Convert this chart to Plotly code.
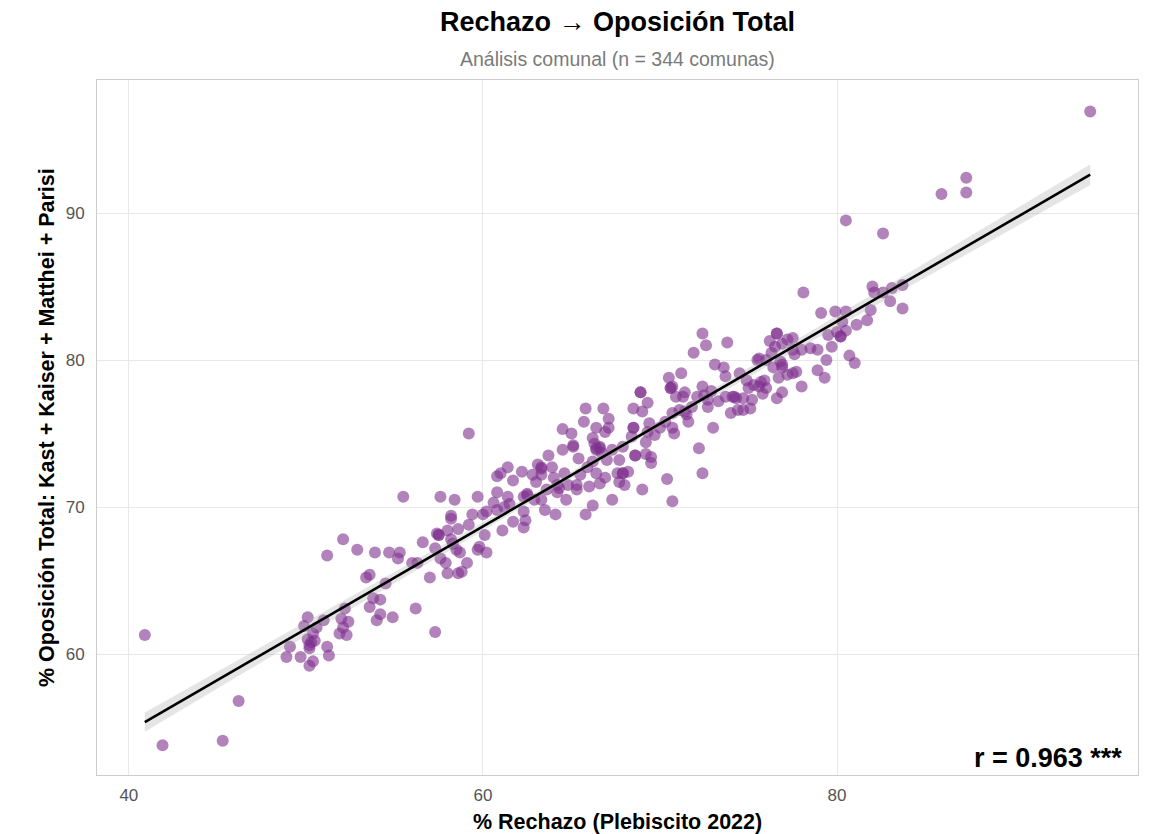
import numpy as np
import plotly.graph_objects as go

# % Rechazo (Plebiscito 2022) and % Oposición Total per comuna
rechazo = [
    40.9, 41.9, 45.3, 46.2, 51.2,
    50.1, 49.9, 51.0, 50.6, 50.4, 50.1, 50.3, 50.2, 49.1, 48.9, 49.7, 50.2, 50.4, 51.2, 51.3,
    59.2, 55.5, 57.6, 58.4, 59.7, 58.2, 58.2, 59.4, 59.2, 58.6, 58.0, 57.4, 57.5, 56.6, 57.3,
    58.2, 58.5, 58.7, 59.7, 57.6, 57.9, 59.1, 58.0, 58.6, 58.8, 57.0, 56.0, 56.3, 52.1, 52.9,
    53.9, 54.7, 55.3, 55.2, 53.4, 53.6, 54.5, 53.8, 54.2, 53.6, 52.2, 54.2, 54.9, 54.0, 56.2,
    57.3, 52.0, 52.4, 52.1, 51.9, 52.3,
    65.8, 66.8, 67.1, 65.7, 66.4, 67.1, 66.9, 64.5, 65.0, 66.2, 66.3, 66.6, 66.4, 66.7, 65.1,
    64.5, 67.3, 65.4, 63.7, 63.1, 63.9, 63.3, 66.2, 67.0, 65.9, 64.6, 65.5, 66.4, 66.9, 67.6,
    63.3, 62.8, 63.0, 64.0, 64.2, 64.8, 65.3, 66.0, 66.6, 65.3, 63.6, 64.2, 64.7, 67.3, 66.2,
    65.8, 64.1, 63.5, 63.3, 62.9, 62.5, 62.3, 61.4, 62.2, 60.8, 61.0, 61.7, 60.8, 61.4, 60.6,
    60.2, 60.8, 61.2, 61.7, 62.3, 62.4, 62.3, 61.1, 60.0, 60.1, 59.8, 60.2,
    72.4, 72.6, 71.9, 73.8, 73.1, 73.6, 73.7, 74.5, 74.9, 75.5, 75.3, 75.0, 71.2, 70.5, 70.6,
    70.7, 71.4, 71.3, 70.9, 72.4, 72.9, 72.1, 72.7, 73.7, 74.2, 74.7, 75.2, 74.0, 74.4, 75.1,
    71.8, 71.5, 71.1, 70.7, 70.3, 70.7, 70.8, 71.6, 72.7, 73.0, 68.9, 69.3, 68.5, 69.0, 69.4,
    69.3, 68.5, 68.4, 67.9, 69.2, 69.7, 70.0, 72.2, 68.6, 69.2, 69.5, 67.7, 67.9, 68.2, 67.7,
    68.0, 72.4, 70.4, 69.0, 70.7,
    78.1, 79.1, 79.9, 80.5, 82.0, 82.1, 81.9, 81.7, 81.1, 80.3, 80.5, 80.0, 80.2, 79.5, 79.7,
    79.4, 80.7, 81.0, 79.3, 78.9, 78.5, 78.0, 77.5, 77.2, 76.6, 76.2, 76.5, 76.9, 77.5, 76.3,
    75.6, 76.8, 76.4, 76.9, 77.5, 77.7, 77.2, 76.7, 75.9, 75.6, 76.0, 76.9, 78.0, 76.6, 75.8,
    94.3, 87.3, 87.3, 85.9, 82.6, 83.1, 83.7, 82.6, 83.0, 83.7, 80.5,
    # overlapping points (darker spots)
    68.9, 68.5, 70.6, 74.1, 74.3, 74.7, 67.9, 68.6, 76.6, 76.9, 80.2, 75.7, 66.6, 62.5, 63.3,
    66.4, 65.1, 58.3, 57.5, 50.2, 50.5, 71.4, 72.5, 76.0, 77.6, 78.9, 64.3, 61.5, 69.5, 73.3,
]
oposicion = [
    61.3, 53.8, 54.1, 56.8, 66.7,
    62.5, 61.9, 62.3, 61.8, 61.4, 61.0, 60.8, 60.4, 60.5, 59.8, 59.8, 59.2, 59.5, 60.5, 59.9,
    75.0, 70.7, 70.7, 70.5, 70.7, 69.4, 69.2, 69.5, 68.8, 68.5, 68.4, 68.2, 68.1, 67.6, 67.2,
    67.8, 67.1, 66.9, 67.1, 66.5, 66.2, 66.2, 65.5, 65.5, 65.6, 65.2, 66.2, 66.2, 67.8, 67.1,
    66.9, 66.9, 66.9, 66.5, 65.2, 65.4, 64.8, 63.8, 63.7, 63.2, 63.1, 62.7, 62.5, 62.3, 63.1,
    61.5, 62.4, 62.2, 61.8, 61.4, 61.3,
    76.7, 76.7, 76.0, 75.8, 75.4, 75.4, 75.1, 75.3, 75.0, 74.7, 74.3, 74.1, 73.9, 73.7, 74.1,
    73.9, 73.9, 73.3, 73.5, 72.9, 72.7, 72.7, 73.1, 73.2, 72.7, 72.3, 72.2, 72.3, 72.0, 72.3,
    72.2, 72.2, 71.7, 72.0, 71.5, 71.5, 71.5, 71.4, 71.6, 71.2, 71.2, 71.0, 70.5, 70.5, 70.1,
    69.5, 69.5, 69.8, 70.5, 70.5, 70.8, 70.7, 72.7, 72.4, 72.1, 72.3, 71.8, 71.0, 70.7, 70.3,
    69.7, 69.8, 70.0, 69.0, 69.7, 69.1, 68.6, 68.4, 69.5, 68.1, 67.3, 66.9,
    81.8, 81.0, 80.5, 81.2, 79.7, 79.5, 78.9, 79.1, 78.6, 80.0, 78.3, 78.1, 79.1, 78.8, 78.1,
    78.2, 77.8, 77.5, 77.5, 78.2, 77.9, 77.5, 77.3, 77.5, 77.5, 77.4, 77.3, 76.4, 76.6, 76.7,
    76.8, 76.3, 76.6, 76.4, 75.8, 75.4, 75.0, 75.8, 76.8, 75.4, 77.8, 77.1, 76.7, 76.5, 75.7,
    75.1, 75.4, 74.8, 74.1, 74.4, 74.9, 75.4, 74.0, 73.5, 73.6, 73.0, 73.2, 72.3, 72.4, 71.7,
    71.5, 72.3, 71.9, 71.2, 70.4,
    84.6, 83.2, 83.3, 83.3, 85.0, 84.6, 83.4, 82.7, 82.4, 82.6, 82.0, 81.9, 81.6, 81.7, 80.9,
    80.0, 80.3, 79.8, 78.8, 80.7, 80.8, 80.7, 81.5, 81.4, 81.8, 81.3, 80.9, 81.1, 80.7, 80.5,
    80.1, 79.9, 79.5, 79.5, 79.1, 79.2, 79.0, 78.8, 78.6, 78.2, 78.1, 77.8, 78.2, 77.4, 77.7,
    96.9, 92.4, 91.4, 91.3, 88.6, 84.9, 85.1, 84.6, 84.0, 83.5, 89.5,
    77.8, 75.4, 78.1, 77.5, 77.4, 76.6, 72.3, 73.5, 81.8, 79.7, 81.6, 78.5, 74.0, 70.9, 72.6,
    74.0, 74.2, 67.5, 68.1, 60.6, 60.9, 76.5, 77.6, 80.0, 80.4, 79.3, 71.3, 70.2, 73.4, 77.2,
]

x_ticks = [40, 60, 80]
y_ticks = [60, 70, 80, 90]
r_label = "r = 0.963 ***"

x = np.array(rechazo)
y = np.array(oposicion)
n = len(x)
b1, b0 = np.polyfit(x, y, 1)
xs = np.linspace(x.min(), x.max(), 80)
ys = b0 + b1 * xs
resid = y - (b0 + b1 * x)
s = np.sqrt(np.sum(resid ** 2) / (n - 2))
se = s * np.sqrt(1 / n + (xs - x.mean()) ** 2 / np.sum((x - x.mean()) ** 2))
t = 1.967

fig = go.Figure()
fig.add_trace(go.Scatter(
    x=x, y=y, mode="markers",
    marker=dict(size=12, color="rgba(126,48,141,0.6)", line=dict(width=0)),
    showlegend=False, hoverinfo="x+y"))
fig.add_trace(go.Scatter(x=xs, y=ys - t * se, mode="lines", line=dict(width=0),
                         showlegend=False, hoverinfo="skip"))
fig.add_trace(go.Scatter(x=xs, y=ys + t * se, mode="lines", line=dict(width=0),
                         fill="tonexty", fillcolor="rgba(170,170,170,0.3)",
                         showlegend=False, hoverinfo="skip"))
fig.add_trace(go.Scatter(x=xs, y=ys, mode="lines", line=dict(color="black", width=2.6),
                         showlegend=False, hoverinfo="skip"))

# the page body adds an 8px offset; figure coordinates = page coordinates - 8
OFF = 8
W, H = 1152 - OFF, 834 - OFF
PT, PB, PL, PR = 80 - OFF, 775 - OFF, 97 - OFF, 1138 - OFF
PH, PW = PB - PT, PR - PL


def py(page_y):
    return (PB - (page_y - OFF)) / PH


def px(page_x):
    return ((page_x - OFF) - PL) / PW


font_family = "Liberation Sans, Arial, sans-serif"
fig.update_layout(
    width=W, height=H,
    margin=dict(l=PL, r=W - PR, t=PT, b=H - PB, autoexpand=False),
    paper_bgcolor="white", plot_bgcolor="white",
    font=dict(family=font_family),
    annotations=[
        dict(text="<b>Rechazo → Oposición Total</b>", xref="paper", yref="paper",
             x=0.5, y=py(22), xanchor="center", yanchor="middle",
             showarrow=False, font=dict(size=27, color="black")),
        dict(text="Análisis comunal (n = 344 comunas)", xref="paper", yref="paper",
             x=0.5, y=py(59), xanchor="center", yanchor="middle",
             showarrow=False, font=dict(size=19.5, color="#7a7a7a")),
        dict(text="<b>" + r_label + "</b>", xref="paper", yref="paper",
             x=px(1124), y=py(758), xanchor="right", yanchor="middle",
             showarrow=False, font=dict(size=27, color="black")),
        dict(text="<b>% Rechazo (Plebiscito 2022)</b>", xref="paper", yref="paper",
             x=0.5, y=py(822), xanchor="center", yanchor="middle",
             showarrow=False, font=dict(size=21.5, color="black")),
        dict(text="<b>% Oposición Total: Kast + Kaiser + Matthei + Parisi</b>",
             xref="paper", yref="paper", textangle=-90,
             x=px(47), y=py(428), xanchor="center", yanchor="middle",
             showarrow=False, font=dict(size=21.5, color="black")),
    ],
)
fig.update_xaxes(
    range=[38.2, 97.0], tickvals=x_ticks, ticks="", ticklabelstandoff=5,
    tickfont=dict(size=17, color="#555555"), automargin=False,
    showgrid=True, gridcolor="#e8e8e8", gridwidth=1, zeroline=False,
    showline=True, mirror=True, linecolor="#cccccc", linewidth=1,
)
fig.update_yaxes(
    range=[51.77, 99.05], tickvals=y_ticks, ticks="", ticklabelstandoff=8,
    tickfont=dict(size=17, color="#555555"), automargin=False,
    showgrid=True, gridcolor="#e8e8e8", gridwidth=1, zeroline=False,
    showline=True, mirror=True, linecolor="#cccccc", linewidth=1,
)

fig.write_html("out.html")
